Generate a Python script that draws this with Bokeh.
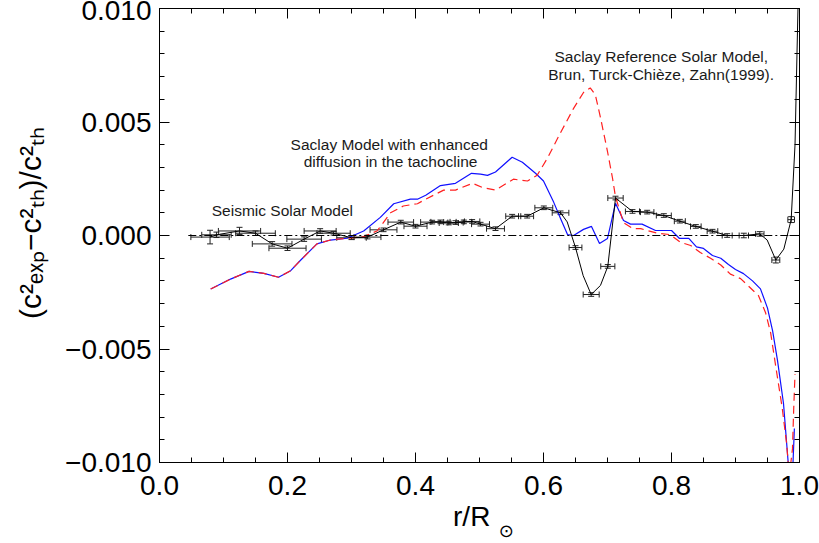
from bokeh.plotting import figure
from bokeh.models import (ColumnDataSource, Whisker, TeeHead, FixedTicker, LinearAxis, Range1d)
from bokeh.core.properties import value
from bokeh.embed import file_html
from bokeh.resources import INLINE

# ---------------- data ----------------
# Saclay model with enhanced diffusion in the tachocline (blue, solid)
blue_r = [0.080, 0.111, 0.140, 0.163, 0.186, 0.205, 0.220, 0.246, 0.267, 0.293,
          0.319, 0.345, 0.366, 0.392, 0.403, 0.416, 0.439, 0.4625, 0.4875, 0.5016,
          0.5125, 0.525, 0.551, 0.567, 0.5875, 0.600, 0.616, 0.6266, 0.6375, 0.647,
          0.6625, 0.675, 0.6875, 0.700, 0.7125, 0.725, 0.736, 0.754, 0.775, 0.800,
          0.8125, 0.827, 0.839, 0.850, 0.864, 0.877, 0.889, 0.900, 0.9125, 0.9266,
          0.939, 0.950, 0.958, 0.9656, 0.975, 0.984, 0.989, 0.992]
blue_v = [-0.00236, -0.00192, -0.00158, -0.00167, -0.00184, -0.00155, -0.00110, -0.00037, -0.00020, -0.00012,
          0.00020, 0.00080, 0.00140, 0.00160, 0.00160, 0.00177, 0.00220, 0.00230, 0.00274, 0.00270,
          0.00265, 0.00280, 0.00345, 0.00323, 0.00274, 0.00240, 0.00146, 0.00075, 0.00004, 0.00000,
          0.00027, 0.00040, -0.00035, -0.00013, 0.00142, 0.00066, 0.00050, 0.00050, 0.00022, 0.00022,
          -0.00013, -0.00013, -0.00050, -0.00057, -0.00088, -0.00100, -0.00128, -0.00150, -0.00168, -0.00200,
          -0.00235, -0.00320, -0.00420, -0.00550, -0.00740, -0.01060, -0.01060, -0.00850]

# Saclay Reference Solar Model (red, dashed)
red_r = [0.080, 0.111, 0.140, 0.163, 0.186, 0.205, 0.220, 0.246, 0.267, 0.293,
         0.319, 0.340, 0.361, 0.381, 0.403, 0.416, 0.444, 0.4625, 0.489, 0.506,
         0.525, 0.553, 0.575, 0.590, 0.606, 0.627, 0.647, 0.6625, 0.673, 0.681,
         0.689, 0.700, 0.708, 0.7125, 0.725, 0.740, 0.752, 0.778, 0.798, 0.814,
         0.830, 0.845, 0.861, 0.877, 0.892, 0.908, 0.923, 0.936, 0.947, 0.955,
         0.9625, 0.973, 0.980, 0.984, 0.989, 0.991, 0.993]
red_v = [-0.00236, -0.00192, -0.00158, -0.00167, -0.00184, -0.00155, -0.00110, -0.00037, -0.00020, -0.00012,
         -0.00005, 0.00020, 0.00100, 0.00130, 0.00140, 0.00160, 0.00200, 0.00200, 0.00230, 0.00210,
         0.00200, 0.00248, 0.00240, 0.00265, 0.00340, 0.00455, 0.00560, 0.00630, 0.00650, 0.00620,
         0.00520, 0.00370, 0.00250, 0.00170, 0.00057, 0.00030, 0.00030, 0.00010, 0.00004, -0.00030,
         -0.00044, -0.00075, -0.00100, -0.00130, -0.00170, -0.00190, -0.00230, -0.00265, -0.00340, -0.00430,
         -0.00570, -0.00760, -0.00920, -0.01060, -0.00940, -0.00760, -0.00610]

# Seismic solar model: points with error bars
seis_r = [0.079, 0.089, 0.125, 0.150, 0.176, 0.200, 0.226, 0.251, 0.272, 0.300,
          0.325, 0.350, 0.377, 0.400, 0.426, 0.439, 0.452, 0.4625, 0.4755, 0.4885,
          0.5016, 0.525, 0.551, 0.5745, 0.6005, 0.6266, 0.650, 0.6745, 0.7005, 0.7125,
          0.739, 0.762, 0.788, 0.813, 0.838, 0.864, 0.887, 0.913, 0.938, 0.963, 0.987]
seis_v = [-0.00007, 0.00003, 0.00020, 0.00010, -0.00037, -0.00056, -0.00016, 0.00020, 0.00010, -0.00010,
          -0.00007, 0.00025, 0.00059, 0.00041, 0.00059, 0.00060, 0.00055, 0.00057, 0.00060, 0.00062,
          0.00050, 0.00030, 0.00085, 0.00085, 0.00122, 0.00100, -0.00053, -0.00260, -0.00136, 0.00165,
          0.00106, 0.00103, 0.00088, 0.00063, 0.00040, 0.00019, 0.00000, 0.00000, 0.00007, -0.00108, 0.00070]
seis_dr = [0.030, 0.023, 0.033, 0.031, 0.031, 0.029, 0.027, 0.025, 0.026, 0.023,
           0.021, 0.021, 0.020, 0.018, 0.018, 0.015, 0.015, 0.012, 0.012, 0.012,
           0.014, 0.014, 0.010, 0.010, 0.014, 0.013, 0.010, 0.0125, 0.011, 0.012,
           0.011, 0.0105, 0.0117, 0.0086, 0.0083, 0.0083, 0.0078, 0.0073, 0.0065, 0.0062, 0.0052]
seis_dv = [0.00030, 0.00012, 0.00016, 0.00010, 0.00010, 0.00010, 0.00010, 0.00010, 0.00008, 0.00008,
           0.00008, 0.00008, 0.00008, 0.00008, 0.00008, 0.00008, 0.00008, 0.00008, 0.00008, 0.00008,
           0.00008, 0.00008, 0.00008, 0.00008, 0.00008, 0.00008, 0.00008, 0.00008, 0.00008, 0.00008,
           0.00008, 0.00008, 0.00008, 0.00008, 0.00008, 0.00008, 0.00008, 0.00010, 0.00010, 0.00013, 0.00013]

# Seismic model curve (black line through the points)
curve_r = [0.079, 0.089, 0.125, 0.150, 0.176, 0.200, 0.226, 0.251, 0.272, 0.300,
           0.325, 0.350, 0.377, 0.400, 0.426, 0.439, 0.452, 0.4625, 0.4755, 0.4885,
           0.5016, 0.525, 0.551, 0.5745, 0.6005, 0.6266, 0.637, 0.650, 0.662, 0.6745,
           0.689, 0.7005, 0.7125, 0.739, 0.762, 0.788, 0.813, 0.838, 0.864, 0.887,
           0.913, 0.938, 0.9495, 0.963, 0.9755, 0.987, 0.993, 0.998]
curve_v = [-0.00007, 0.00003, 0.00020, 0.00010, -0.00037, -0.00056, -0.00016, 0.00020, 0.00010, -0.00010,
           -0.00007, 0.00025, 0.00059, 0.00041, 0.00059, 0.00060, 0.00055, 0.00057, 0.00060, 0.00062,
           0.00050, 0.00030, 0.00085, 0.00085, 0.00122, 0.00100, 0.00060, -0.00053, -0.00177, -0.00260,
           -0.00220, -0.00136, 0.00165, 0.00106, 0.00103, 0.00088, 0.00063, 0.00040, 0.00019, 0.00000,
           0.00000, 0.00007, -0.00020, -0.00108, -0.00060, 0.00070, 0.00400, 0.01050]

zero_r = [0.045, 0.985]
zero_v = [0.0, 0.0]

x_ticks = [0.0, 0.2, 0.4, 0.6, 0.8, 1.0]
x_tick_labels = ["0.0", "0.2", "0.4", "0.6", "0.8", "1.0"]
y_ticks = [-0.010, -0.005, 0.0, 0.005, 0.010]
y_tick_labels = ["\u22120.010", "\u22120.005", "0.000", "0.005", "0.010"]

x_label = "r/R"
x_label_sub = "\u2299"
x_label_sub_at = [0.542]
y_label = "(c\u00b2\u2091\u2093\u209a\u2212c\u00b2\u209c\u2095)/c\u00b2\u209c\u2095"

ann_text = ["Seismic Solar Model",
            "Saclay Model with enhanced", "diffusion in the tachocline",
            "Saclay Reference Solar Model,", "Brun, Turck-Chi\u00e8ze, Zahn(1999)."]
ann_x = [0.192, 0.359, 0.361, 0.784, 0.784]
ann_y = [0.00110, 0.00403, 0.00327, 0.00788, 0.00708]

# ---------------- figure ----------------
FONT = "Liberation Sans"
NB = "\u00a0"
x_minor = [round(i * 0.05, 2) for i in range(21)]
y_minor = [round(-0.010 + i * 0.001, 3) for i in range(21)]

p = figure(width=819, height=543, x_range=Range1d(0, 1), y_range=Range1d(-0.010, 0.010),
           output_backend="svg", toolbar_location=None,
           min_border_left=159, min_border_right=20, min_border_top=8, min_border_bottom=81)
p.grid.visible = False
p.outline_line_color = "black"
p.outline_line_width = 1
p.background_fill_color = "white"
p.border_fill_color = "white"

def style_axis(ax, ticks, minor, labels, show):
    ax.ticker = FixedTicker(ticks=ticks, minor_ticks=minor)
    ax.major_tick_in = 10
    ax.major_tick_out = 0
    ax.minor_tick_in = 5
    ax.minor_tick_out = 0
    ax.axis_line_color = "black"
    ax.major_tick_line_color = "black"
    ax.minor_tick_line_color = "black"
    if show:
        ax.major_label_overrides = {t: l for t, l in zip(ticks, labels)}
        ax.major_label_text_font = FONT
        ax.major_label_text_font_size = "28px"
        ax.major_label_text_color = "black"
    else:
        ax.major_label_overrides = {t: "" for t in ticks}
        ax.major_label_text_font_size = "0px"
        ax.major_label_standoff = 0

xa = p.xaxis[0]
ya = p.yaxis[0]
style_axis(xa, x_ticks, x_minor, x_tick_labels, True)
style_axis(ya, y_ticks, y_minor, y_tick_labels, True)
xa.major_label_standoff = 13
ya.major_label_standoff = 8

xa.axis_label = x_label + NB * 2
xa.axis_label_text_font = FONT
xa.axis_label_text_font_size = "28px"
xa.axis_label_text_font_style = "normal"
xa.axis_label_text_color = "black"
xa.axis_label_standoff = 3

ya.axis_label = NB * 3 + y_label
ya.axis_label_text_font = FONT
ya.axis_label_text_font_size = "30px"
ya.axis_label_text_font_style = "normal"
ya.axis_label_text_color = "black"
ya.axis_label_standoff = 15

top = LinearAxis()
right = LinearAxis()
style_axis(top, x_ticks, x_minor, x_tick_labels, False)
style_axis(right, y_ticks, y_minor, y_tick_labels, False)
p.add_layout(top, "above")
p.add_layout(right, "right")

# subscript sun symbol of the x label, drawn as the only tick label of a bare axis
sun_axis = LinearAxis(ticker=FixedTicker(ticks=x_label_sub_at, minor_ticks=[]),
                      major_label_overrides={x_label_sub_at[0]: x_label_sub},
                      major_label_text_font="DejaVu Sans", major_label_text_font_size="18px",
                      major_label_text_color="black", major_label_standoff=-15,
                      major_tick_in=0, major_tick_out=0, minor_tick_in=0, minor_tick_out=0,
                      axis_line_color=None, major_tick_line_color=None, minor_tick_line_color=None)
p.add_layout(sun_axis, "below")

# curves
p.line(blue_r, blue_v, line_color="#1010ff", line_width=1.2)
p.line(red_r, red_v, line_color="#ff2020", line_width=1.2, line_dash="8 5")
p.line(zero_r, zero_v, line_color="black", line_width=1, line_dash="8 3 2 3")
p.line(curve_r, curve_v, line_color="black", line_width=1)

src = ColumnDataSource(dict(
    r=seis_r, v=seis_v,
    r_lo=[a - b for a, b in zip(seis_r, seis_dr)], r_hi=[a + b for a, b in zip(seis_r, seis_dr)],
    v_lo=[a - b for a, b in zip(seis_v, seis_dv)], v_hi=[a + b for a, b in zip(seis_v, seis_dv)],
))
EB = "#222222"
wv = Whisker(base="r", lower="v_lo", upper="v_hi", source=src, dimension="height",
             line_color=EB, line_width=1,
             upper_head=TeeHead(size=6, line_color=EB, line_width=1),
             lower_head=TeeHead(size=6, line_color=EB, line_width=1))
wh = Whisker(base="v", lower="r_lo", upper="r_hi", source=src, dimension="width",
             line_color=EB, line_width=1,
             upper_head=TeeHead(size=6, line_color=EB, line_width=1),
             lower_head=TeeHead(size=6, line_color=EB, line_width=1))
p.add_layout(wv)
p.add_layout(wh)

# annotations
p.text(x=ann_x, y=ann_y, text=ann_text, text_font=value(FONT), text_font_size="15.5px",
       text_color="#1a1a1a", text_align="center", text_baseline="middle")

open("out.html", "w").write(file_html(p, INLINE))
